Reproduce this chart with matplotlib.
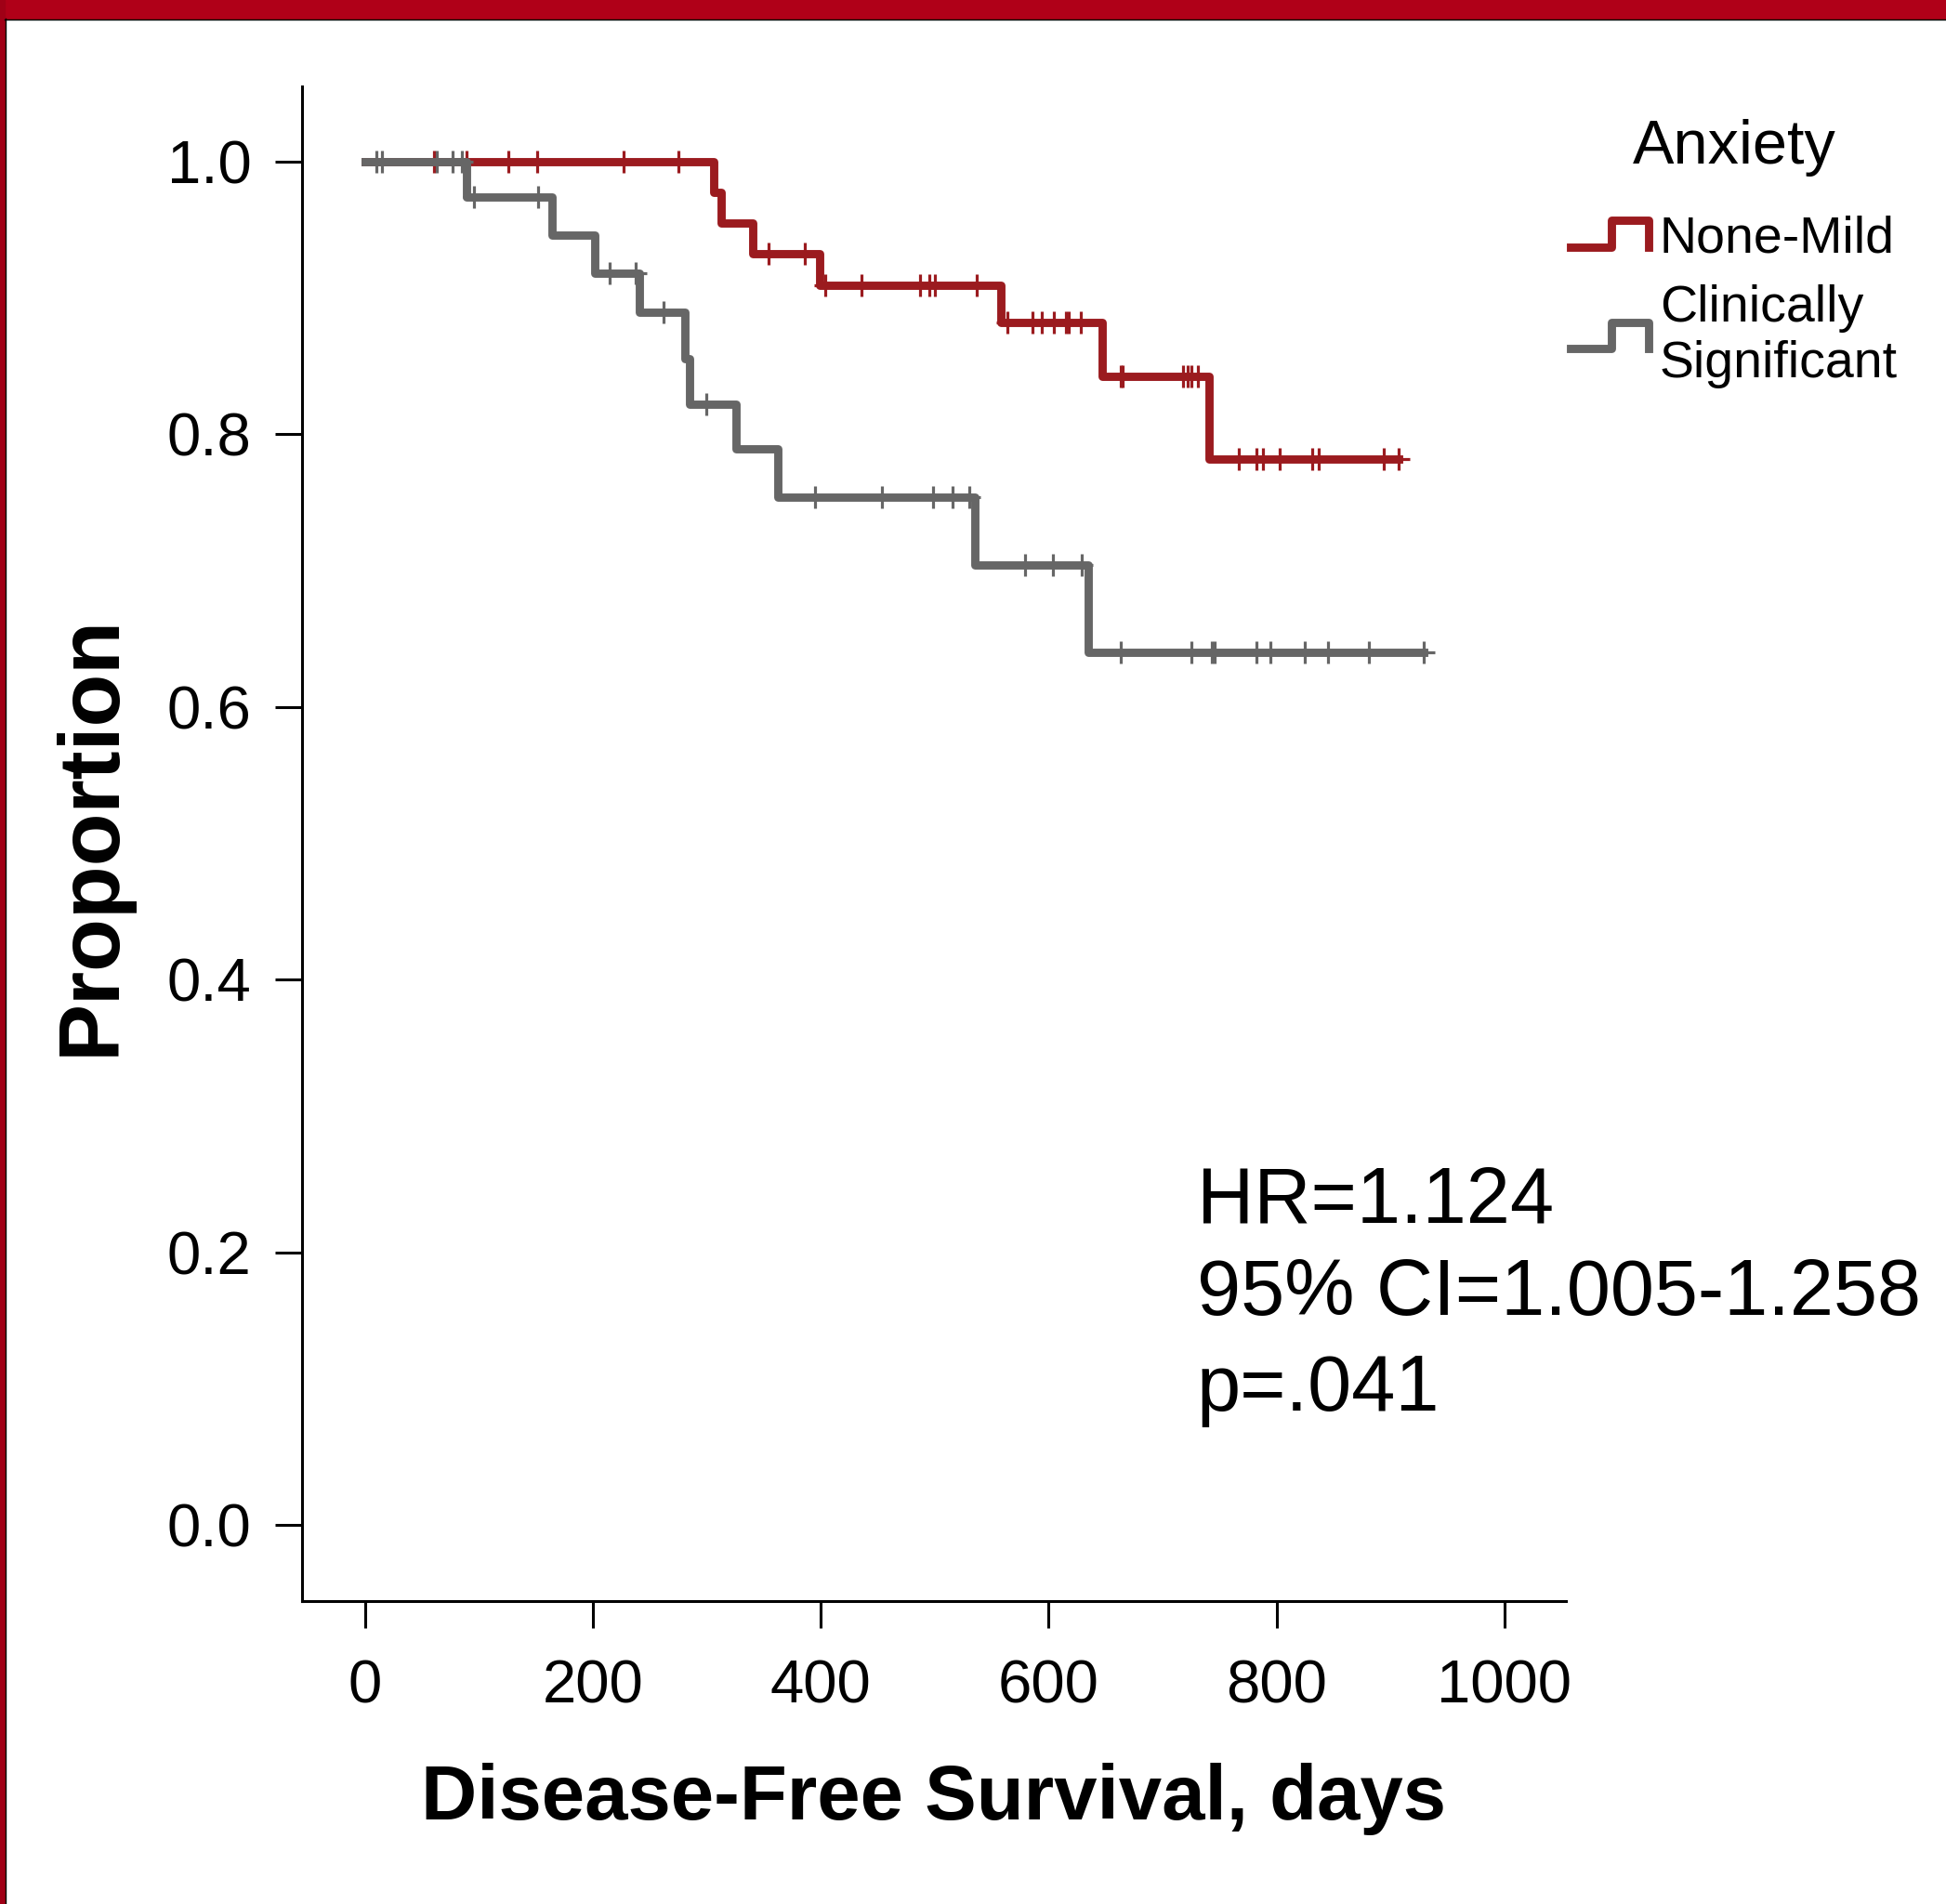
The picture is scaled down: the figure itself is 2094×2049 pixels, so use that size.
"""Kaplan-Meier style disease-free survival curves by anxiety group."""

import numpy as np
import matplotlib
matplotlib.use("Agg")
import matplotlib.pyplot as plt
from matplotlib.legend_handler import HandlerBase
from matplotlib.lines import Line2D
from matplotlib.patches import Rectangle

plt.rcParams["font.family"] = ["Liberation Sans", "DejaVu Sans"]

# ---- data (days, survival proportion) ----
GROUPS = ["None-Mild", "Clinically\nSignificant"]
COLORS = ["#9B1B1F", "#666666"]

red_event_t = [0, 306.5, 313, 340.5, 399, 558, 647, 741]
red_event_s = [1.0, 0.977, 0.955, 0.932, 0.909, 0.882, 0.842, 0.782]
red_cens_t = [61, 89, 126, 151, 227, 275, 354, 386, 404, 436, 487, 495, 500,
              537, 564, 586, 594, 605, 615, 618, 628, 663, 665, 718, 722, 725,
              731, 767, 782, 788, 803, 831, 837, 894, 907]

gray_event_t = [0, 89, 164, 202, 241, 281, 285, 326, 362, 535, 635]
gray_event_s = [1.0, 0.974, 0.946, 0.918, 0.889, 0.855, 0.822, 0.789, 0.754,
                0.704, 0.640]
gray_cens_t = [10, 15, 63, 77, 85, 96, 152, 215, 238, 262, 300, 395, 454, 499,
               516, 530, 579, 604, 629, 663, 725, 743, 746, 782, 795, 825, 845,
               881, 929]

X_TICKS = [0, 200, 400, 600, 800, 1000]
Y_TICKS = [0.0, 0.2, 0.4, 0.6, 0.8, 1.0]
STATS = ["HR=1.124", "95% CI=1.005-1.258", "p=.041"]


def surv_at(times, ev_t, ev_s):
    idx = np.searchsorted(ev_t, times, side="right") - 1
    return np.asarray(ev_s)[idx]


class StepHandler(HandlerBase):
    # legend glyph shaped like a little survival step
    def create_artists(self, legend, orig_handle, xdescent, ydescent,
                       width, height, fontsize, trans):
        x0, y0 = -xdescent, -ydescent
        xs = [x0, x0 + 0.52 * width, x0 + 0.52 * width, x0 + width, x0 + width]
        lo, hi = y0 + 0.16 * height, y0 + 0.9 * height
        ys = [lo, lo, hi, hi, lo]
        ln = Line2D(xs, ys, color=orig_handle.get_color(),
                    lw=orig_handle.get_linewidth(), solid_joinstyle="round",
                    transform=trans)
        return [ln]


fig = plt.figure(figsize=(20.94, 20.49), dpi=100)
ax = fig.add_axes([0.155, 0.1591, 0.6497, 0.7953])

series = [(red_event_t, red_event_s, red_cens_t),
          (gray_event_t, gray_event_s, gray_cens_t)]
handles = []
for i, ((et, es, ct), col, name) in enumerate(zip(series, COLORS, GROUPS)):
    end = max(ct)
    xs = list(et) + [end]
    ys = list(es) + [es[-1]]
    ln, = ax.step(xs, ys, where="post", color=col, lw=6.4,
                  solid_joinstyle="round", zorder=2 + 2 * i, label=name)
    ax.plot(ct, surv_at(ct, et, es), ls="none", marker="+", ms=17, mew=2.3,
            color=col, zorder=3 + 2 * i)
    handles.append(ln)

ax.set_xlim(-55.5, 1054)
ax.set_ylim(-0.0557, 1.0546)
ax.set_xticks(X_TICKS)
ax.set_xticklabels([str(v) for v in X_TICKS])
ax.set_yticks(Y_TICKS)
ax.set_yticklabels([f"{v:.1f}" for v in Y_TICKS])
for s in ["top", "right"]:
    ax.spines[s].set_visible(False)
for s in ["left", "bottom"]:
    ax.spines[s].set_linewidth(2.2)
ax.tick_params(direction="out", length=21, width=2.2, labelsize=47, pad=18)
ax.tick_params(axis="x", pad=24)

ax.set_xlabel("Disease-Free Survival, days", fontsize=60, fontweight="bold",
              labelpad=37)
ax.set_ylabel("Proportion", fontsize=67, fontweight="bold", labelpad=27)
ax.yaxis.label.set_y(0.506)

stat_y = [0.222, 0.154, 0.084]
for txt, yy in zip(STATS, stat_y):
    ax.text(730, yy, txt, fontsize=61, va="baseline", ha="left")

leg = ax.legend(handles=handles, labels=GROUPS, title="Anxiety",
                handler_map={Line2D: StepHandler()},
                loc="upper left", bbox_to_anchor=(0.794, 0.951),
                bbox_transform=fig.transFigure, frameon=False, fontsize=40,
                title_fontsize=48, handlelength=1.5, handletextpad=0.22,
                borderpad=0, labelspacing=0.39)
leg._legend_box.sep = 30  # extra room between title and entries

# journal frame: red band on top and left edge
fig.patches.append(Rectangle((0, 1 - 20 / 2049), 1, 20 / 2049,
                             transform=fig.transFigure, color="#B00018",
                             zorder=0))
fig.patches.append(Rectangle((0, 0), 5 / 2094, 1, transform=fig.transFigure,
                             color="#A00016", zorder=0))
fig.lines.append(Line2D([5 / 2094, 1], [1 - 21 / 2049] * 2,
                        transform=fig.transFigure, color="black", lw=1))
fig.lines.append(Line2D([5.5 / 2094] * 2, [0, 1 - 20 / 2049],
                        transform=fig.transFigure, color="black", lw=1))

fig.savefig("out.png", dpi=100)
